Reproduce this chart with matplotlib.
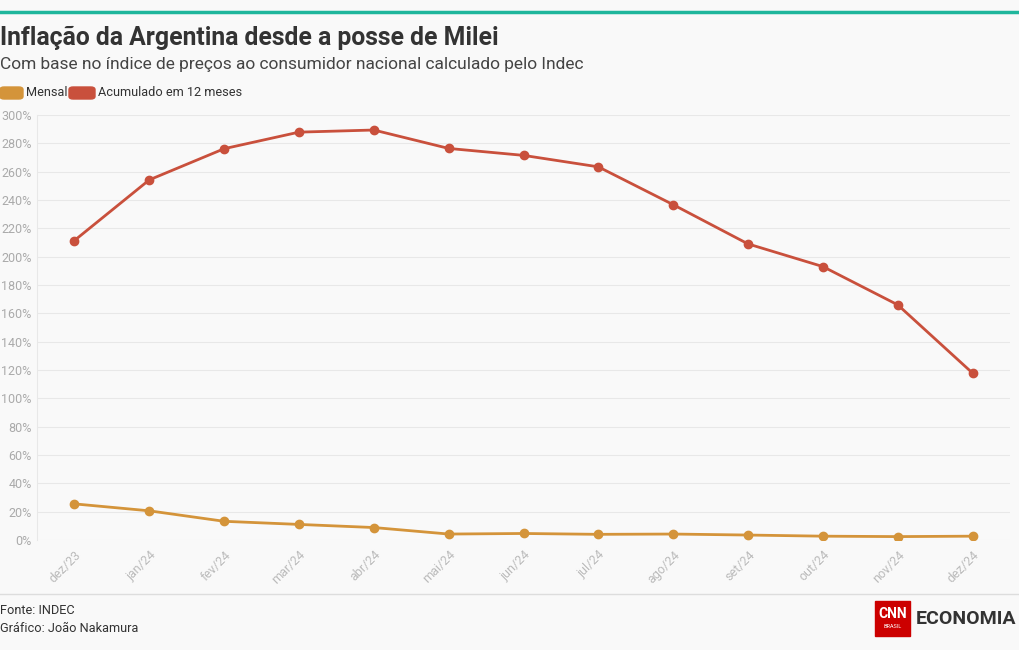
import matplotlib.pyplot as plt
from matplotlib.patches import Rectangle, FancyBboxPatch

meses = ['dez/23', 'jan/24', 'fev/24', 'mar/24', 'abr/24', 'mai/24', 'jun/24',
         'jul/24', 'ago/24', 'set/24', 'out/24', 'nov/24', 'dez/24']
mensal = [25.5, 20.6, 13.2, 11.0, 8.8, 4.2, 4.6, 4.0, 4.2, 3.5, 2.7, 2.4, 2.7]
acumulado = [211.4, 254.2, 276.2, 287.9, 289.4, 276.4, 271.5, 263.4, 236.7,
             209.0, 193.0, 166.0, 117.8]
y_ticks = list(range(0, 301, 20))

plt.rcParams['font.family'] = ['Roboto', 'DejaVu Sans']

C_MENSAL = '#d4943a'
C_ACUM = '#c9503c'
BG = '#f9f9f9'

fig = plt.figure(figsize=(10.2, 6.5), dpi=100, facecolor=BG)
W, H = 1020, 650


def fx(px):
    return px / W


def fy(py):
    return 1 - py / H


# top accent line
fig.add_artist(plt.Line2D([0, 1], [fy(12), fy(12)], color='#1fb69c', lw=2.5))

fig.text(fx(0), fy(38), 'Inflação da Argentina desde a posse de Milei',
         fontsize=17.8, fontweight='bold', color='#333333', va='center')
fig.text(fx(0), fy(65), 'Com base no índice de preços ao consumidor nacional calculado pelo Indec',
         fontsize=12.5, color='#444444', va='center')

# legend
fig.add_artist(FancyBboxPatch((fx(0), fy(99)), fx(23), 12 / H, boxstyle='round,pad=0,rounding_size=0.004',
                              color=C_MENSAL, transform=fig.transFigure))
fig.text(fx(26), fy(93), 'Mensal', fontsize=9.2, color='#333333', va='center')
fig.add_artist(FancyBboxPatch((fx(69), fy(99)), fx(26), 12 / H, boxstyle='round,pad=0,rounding_size=0.004',
                              color=C_ACUM, transform=fig.transFigure))
fig.text(fx(98), fy(93), 'Acumulado em 12 meses', fontsize=9.2, color='#333333', va='center')

ax = fig.add_axes([fx(37), fy(540), fx(1010 - 37), (540 - 115) / H])
ax.set_facecolor(BG)
x = list(range(len(meses)))
ax.plot(x, acumulado, color=C_ACUM, lw=2, marker='o', ms=6, zorder=3)
ax.plot(x, mensal, color=C_MENSAL, lw=2, marker='o', ms=6, zorder=3)

ax.set_xlim(-0.5, len(meses) - 0.5)
ax.set_ylim(0, 300)
ax.set_yticks(y_ticks)
ax.set_yticklabels([f'{v}%' for v in y_ticks])
ax.set_xticks(x)
ax.set_xticklabels(meses, rotation=45, ha='right', rotation_mode='anchor')
ax.tick_params(axis='y', length=0, labelsize=9, labelcolor='#aaaaaa', pad=4)
ax.tick_params(axis='x', length=0, labelsize=9, labelcolor='#bbbbbb', pad=6)
ax.grid(axis='y', color='#e8e8e8', lw=0.8)
for s in ['top', 'right', 'bottom']:
    ax.spines[s].set_visible(False)
ax.spines['left'].set_color('#e8e8e8')
ax.spines['left'].set_bounds(0, 300)

# footer
fig.add_artist(plt.Line2D([0, 1], [fy(594), fy(594)], color='#dddddd', lw=1))
fig.text(fx(0), fy(611), 'Fonte: INDEC', fontsize=9.2, color='#333333', va='center')
fig.text(fx(0), fy(629), 'Gráfico: João Nakamura', fontsize=9.2, color='#333333', va='center')

# logo
fig.add_artist(Rectangle((fx(875), fy(636)), fx(35), 35 / H, color='#cc0000', transform=fig.transFigure))
fig.text(fx(892.5), fy(614), 'CNN', fontsize=10, fontweight='bold', color='white', ha='center', va='center')
fig.text(fx(892.5), fy(627), 'BRASIL', fontsize=4, color='white', ha='center', va='center')
fig.text(fx(916), fy(619), 'ECONOMIA', fontsize=14, fontweight='bold', color='#333333', va='center')

fig.savefig('out.png', dpi=100, facecolor=BG)
